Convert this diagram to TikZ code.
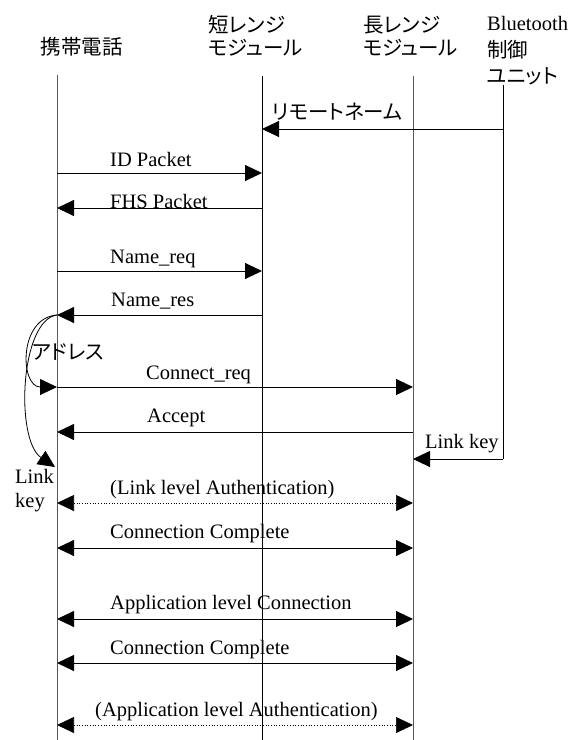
\documentclass[tikz,border=0pt]{standalone}
\usepackage{fontspec}
\setmainfont{Liberation Serif}
\newfontfamily\jpfont[RawFeature=+palt]{Noto Sans CJK JP}
\usetikzlibrary{arrows.meta}

\tikzset{
	bigtri/.tip={Triangle[length=17pt,width=16pt]},
	lbl/.style={font=\fontsize{20.5}{23}\selectfont, inner sep=0pt, anchor=base west},
	jlbl/.style={font=\fontsize{20.5}{23}\jpfont, inner sep=0pt, anchor=west},
	life/.style={line width=0.9pt},
	msg/.style={line width=0.9pt, -bigtri},
	both/.style={line width=0.9pt, bigtri-bigtri},
	dots/.style={line width=0.7pt, dotted, bigtri-bigtri},
	selfarc/.style={line width=0.8pt, -bigtri}
}

\begin{document}
\begin{tikzpicture}[x=1pt, y=-1pt]
		%%%%% START %%%%%
		\useasboundingbox (0,0) rectangle (570,740);
		
		% heads
		\node[jlbl, anchor=center] (phonehd) at (82, 47) {携帯電話};
		\node[jlbl] (shorthd) at (208, 25) {短レンジ};
		\node[jlbl] (shorthd2) at (208, 48) {モジュール};
		\node[jlbl] (longhd) at (363, 25) {長レンジ};
		\node[jlbl] (longhd2) at (363, 48) {モジュール};
		\node[lbl] (bthd) at (487, 30) {Bluetooth};
		\node[jlbl] (bthd2) at (487, 50) {制御};
		\node[jlbl] (bthd3) at (487, 76) {ユニット};
		
		% lifelines
		\coordinate (phone) at (57, 75);
		\coordinate (short) at (262, 76);
		\coordinate (long) at (413, 76);
		\coordinate (bt) at (503, 85);
		\coordinate (bottom) at (0, 740);
		
		% rows
		\coordinate (r1) at (0, 129);
		\coordinate (r2) at (0, 173);
		\coordinate (r3) at (0, 208);
		\coordinate (r4) at (0, 271);
		\coordinate (r5) at (0, 315);
		\coordinate (r6) at (0, 387);
		\coordinate (r7) at (0, 432);
		\coordinate (r8) at (0, 459);
		\coordinate (r9) at (0, 503);
		\coordinate (r10) at (0, 548);
		\coordinate (r11) at (0, 619);
		\coordinate (r12) at (0, 663);
		\coordinate (r13) at (0, 725);
		\coordinate (lkend) at (55, 467);
		
		\draw[life, color=black!65] (phone) -- (phone |- bottom);
		\draw[life] (short) -- (short |- bottom);
		\draw[life, color=black!65] (long) -- (long |- bottom);
		\draw[life] (bt) -- (bt |- r8);
		
		% messages
		\draw[msg] (bt |- r1) -- (short |- r1);
		\node[jlbl] (remote) at (272, 112) {リモートネーム};
		
		\draw[msg] (phone |- r2) -- (short |- r2);
		\node[lbl] (idpkt) at (110, 166) {ID Packet};
		
		\draw[msg] (short |- r3) -- (phone |- r3);
		\node[lbl] (fhspkt) at (110, 208) {FHS Packet};
		
		\draw[msg] (phone |- r4) -- (short |- r4);
		\node[lbl] (namereq) at (110, 263) {Name\_req};
		
		\draw[msg] (short |- r5) -- (phone |- r5);
		\node[lbl] (nameres) at (111, 306) {Name\_res};
		
		% self arcs
		\draw[selfarc] (phone |- r5) .. controls (18, 318) and (20, 387) .. (phone |- r6);
		\node[jlbl] (addr) at (32, 352) {アドレス};
		\draw[selfarc] (phone |- r5) .. controls (20, 320) and (15, 440) .. (lkend);
		\node[lbl] (linklbl) at (15, 483) {Link};
		\node[lbl] (keylbl) at (15, 507) {key};
		
		\draw[msg] (phone |- r6) -- (long |- r6);
		\node[lbl] (connreq) at (146, 379) {Connect\_req};
		
		\draw[msg] (long |- r7) -- (phone |- r7);
		\node[lbl] (accept) at (147, 422) {Accept};
		
		\draw[msg] (bt |- r8) -- (long |- r8);
		\node[lbl] (linkkey) at (425, 448) {Link key};
		
		\draw[dots] (phone |- r9) -- (long |- r9);
		\node[lbl] (linkauth) at (110, 494) {(Link level Authentication)};
		
		\draw[both] (phone |- r10) -- (long |- r10);
		\node[lbl] (conncpl) at (110, 538) {Connection Complete};
		
		\draw[both] (phone |- r11) -- (long |- r11);
		\node[lbl] (appconn) at (110, 609) {Application level Connection};
		
		\draw[both] (phone |- r12) -- (long |- r12);
		\node[lbl] (conncpl2) at (110, 654) {Connection Complete};
		
		\draw[dots] (phone |- r13) -- (long |- r13);
		\node[lbl] (appauth) at (95, 716) {(Application level Authentication)};
		
		%%%%% END %%%%%
	\end{tikzpicture}
\end{document}
